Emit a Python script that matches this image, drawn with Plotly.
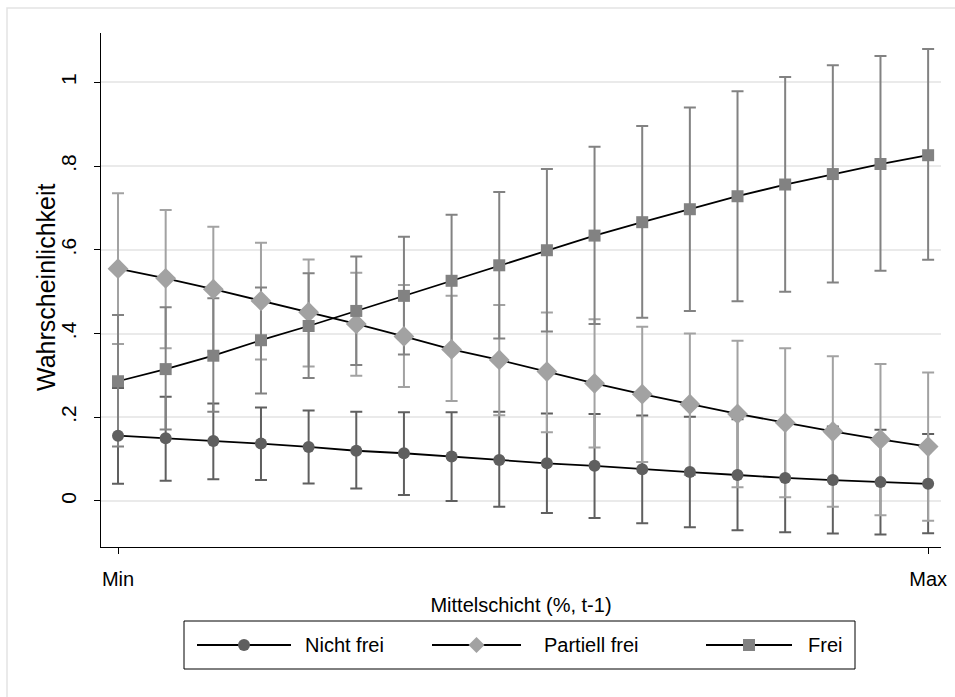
import numpy as np
import plotly.graph_objects as go

# ---- data ----
x_pos = list(range(18))
x_tick_vals = [0, 17]
x_tick_text = ["Min", "Max"]
y_tick_vals = [0, 0.2, 0.4, 0.6, 0.8, 1.0]
y_tick_text = ["0", ".2", ".4", ".6", ".8", "1"]

nicht_frei = [0.156, 0.150, 0.143, 0.137, 0.129, 0.120, 0.114, 0.106, 0.098,
              0.090, 0.084, 0.076, 0.069, 0.062, 0.055, 0.050, 0.045, 0.041]
nicht_frei_lo = [0.041, 0.048, 0.052, 0.050, 0.042, 0.030, 0.014, 0.000, -0.014,
                 -0.029, -0.041, -0.053, -0.063, -0.070, -0.075, -0.078, -0.080, -0.077]
nicht_frei_hi = [0.270, 0.249, 0.233, 0.223, 0.216, 0.213, 0.212, 0.212, 0.213,
                 0.209, 0.208, 0.204, 0.201, 0.195, 0.186, 0.178, 0.170, 0.160]

partiell = [0.555, 0.532, 0.506, 0.478, 0.451, 0.423, 0.393, 0.362, 0.337,
            0.309, 0.281, 0.255, 0.231, 0.208, 0.187, 0.166, 0.147, 0.130]
partiell_lo = [0.375, 0.365, 0.357, 0.338, 0.321, 0.299, 0.272, 0.239, 0.205,
               0.164, 0.128, 0.093, 0.062, 0.033, 0.009, -0.014, -0.034, -0.047]
partiell_hi = [0.735, 0.695, 0.655, 0.617, 0.577, 0.545, 0.516, 0.490, 0.468,
               0.450, 0.434, 0.416, 0.400, 0.383, 0.365, 0.346, 0.327, 0.307]

frei = [0.286, 0.315, 0.347, 0.384, 0.418, 0.454, 0.490, 0.526, 0.563,
        0.599, 0.634, 0.666, 0.697, 0.728, 0.756, 0.781, 0.805, 0.826]
frei_lo = [0.130, 0.171, 0.213, 0.257, 0.294, 0.325, 0.350, 0.368, 0.388,
           0.405, 0.423, 0.438, 0.454, 0.477, 0.500, 0.522, 0.550, 0.576]
frei_hi = [0.444, 0.463, 0.484, 0.510, 0.544, 0.584, 0.631, 0.684, 0.738,
           0.793, 0.846, 0.896, 0.940, 0.979, 1.013, 1.041, 1.063, 1.080]

series_names = ["Nicht frei", "Partiell frei", "Frei"]
x_title = "Mittelschicht (%, t-1)"
y_title = "Wahrscheinlichkeit"

# ---- styling ----
FONT = "Liberation Sans, Arial, sans-serif"
colors = ["#5f5f5f", "#a2a2a2", "#828282"]
symbols = ["circle", "diamond", "square"]
sizes = [12, 16, 12]

W, H = 955, 697
L, R, T, B = 101, 14, 33, 150
PW, PH = W - L - R, H - T - B

def pxx(px):
    return (px - L) / PW

def pxy(py):
    return (H - B - py) / PH

fig = go.Figure()

values = [(nicht_frei, nicht_frei_lo, nicht_frei_hi),
          (partiell, partiell_lo, partiell_hi),
          (frei, frei_lo, frei_hi)]

# confidence interval caps first (behind the lines)
for (y, lo, hi), col in zip(values, colors):
    y_a = np.array(y)
    fig.add_trace(go.Scatter(
        x=x_pos, y=y, mode="markers",
        marker=dict(size=1, color="rgba(0,0,0,0)"),
        error_y=dict(type="data", symmetric=False,
                     array=(np.array(hi) - y_a).tolist(),
                     arrayminus=(y_a - np.array(lo)).tolist(),
                     color=col, thickness=2, width=6),
        showlegend=False, hoverinfo="skip"))

for name, (y, lo, hi), col, sym, sz in zip(series_names, values, colors, symbols, sizes):
    fig.add_trace(go.Scatter(
        x=x_pos, y=y, mode="lines+markers", name=name, showlegend=False,
        line=dict(color="black", width=1.8),
        marker=dict(symbol=sym, size=sz, color=col, line=dict(width=0))))

# ---- hand-drawn legend (Stata style, long line samples) ----
shapes = [
    # outer graph-region border
    dict(type="rect", xref="paper", yref="paper",
         x0=pxx(7), x1=pxx(1100), y0=pxy(900), y1=pxy(8),
         line=dict(color="#e3e3e3", width=1.5), layer="below"),
    # legend box
    dict(type="rect", xref="paper", yref="paper",
         x0=pxx(184), x1=pxx(855), y0=pxy(669), y1=pxy(621),
         line=dict(color="black", width=1), fillcolor="white"),
]
annotations = [
    dict(text=y_title, xref="paper", yref="paper", x=pxx(46), y=pxy(287),
         xanchor="center", yanchor="middle", textangle=-90, showarrow=False,
         font=dict(family=FONT, size=25, color="black")),
]
leg_cy = 645
line_spans = [(197, 291), (432, 521), (706, 792)]
text_x = [303, 542, 806]
for i, name in enumerate(series_names):
    x0, x1 = line_spans[i]
    cx = (x0 + x1) / 2
    shapes.append(dict(type="line", xref="paper", yref="paper",
                       x0=pxx(x0), x1=pxx(x1), y0=pxy(leg_cy), y1=pxy(leg_cy),
                       line=dict(color="black", width=1.8)))
    col = colors[i]
    if symbols[i] == "circle":
        r = 6
        shapes.append(dict(type="circle", xref="paper", yref="paper",
                           x0=pxx(cx - r), x1=pxx(cx + r),
                           y0=pxy(leg_cy + r), y1=pxy(leg_cy - r),
                           fillcolor=col, line=dict(width=0)))
    elif symbols[i] == "diamond":
        r = 8
        path = "M{:.5f},{:.5f} L{:.5f},{:.5f} L{:.5f},{:.5f} L{:.5f},{:.5f} Z".format(
            pxx(cx), pxy(leg_cy - r), pxx(cx + r), pxy(leg_cy),
            pxx(cx), pxy(leg_cy + r), pxx(cx - r), pxy(leg_cy))
        shapes.append(dict(type="path", xref="paper", yref="paper", path=path,
                           fillcolor=col, line=dict(width=0)))
    else:
        r = 6
        shapes.append(dict(type="rect", xref="paper", yref="paper",
                           x0=pxx(cx - r), x1=pxx(cx + r),
                           y0=pxy(leg_cy + r), y1=pxy(leg_cy - r),
                           fillcolor=col, line=dict(width=0)))
    annotations.append(dict(text=name, xref="paper", yref="paper",
                            x=pxx(text_x[i]), y=pxy(leg_cy),
                            xanchor="left", yanchor="middle", showarrow=False,
                            font=dict(family=FONT, size=20, color="black")))

fig.update_layout(
    width=W, height=H,
    margin=dict(l=L, r=R, t=T, b=B, autoexpand=False),
    paper_bgcolor="white", plot_bgcolor="white",
    font=dict(family=FONT, size=20, color="black"),
    showlegend=False,
    shapes=shapes, annotations=annotations,
)
fig.update_xaxes(range=[-0.357, 17.27], tickvals=x_tick_vals, ticktext=x_tick_text,
                 showgrid=False, zeroline=False, showline=True, linecolor="black",
                 linewidth=1.2, ticks="outside", ticklen=6, tickcolor="black",
                 tickfont=dict(size=20), ticklabelstandoff=8,
                 title=dict(text=x_title, standoff=8, font=dict(size=20)))
fig.update_yaxes(range=[-0.11, 1.118], tickvals=y_tick_vals, ticktext=y_tick_text,
                 tickangle=-90, showgrid=True, gridcolor="#eaeaea", gridwidth=1.5,
                 zeroline=False, showline=True, linecolor="black", linewidth=1.2,
                 ticks="outside", ticklen=6, tickcolor="black",
                 tickfont=dict(size=21), ticklabelstandoff=10)

fig.write_html("out.html",
               config={"displayModeBar": False},
               post_script="document.body.style.margin='0';"
                           "document.body.style.overflow='hidden';")
